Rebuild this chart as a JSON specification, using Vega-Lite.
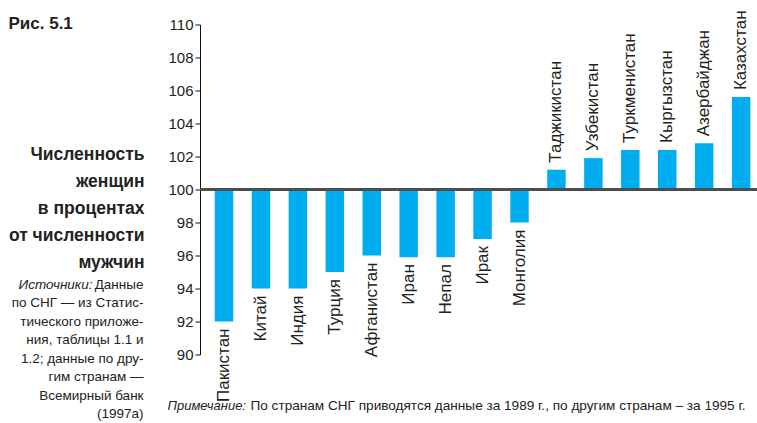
{
  "$schema": "https://vega.github.io/schema/vega-lite/v6.json",
  "width": 557,
  "height": 330,
  "autosize": {"type": "none"},
  "padding": {"left": 200, "top": 24.5, "right": 0, "bottom": 68.5},
  "background": "white",
  "config": {
    "view": {"stroke": null},
    "font": "Liberation Sans, Arial, sans-serif",
    "axis": {"grid": false}
  },
  "data": {
    "values": [
      {"country": "Пакистан", "value": 92.0},
      {"country": "Китай", "value": 94.0},
      {"country": "Индия", "value": 94.0},
      {"country": "Турция", "value": 95.0},
      {"country": "Афганистан", "value": 96.0},
      {"country": "Иран", "value": 95.9},
      {"country": "Непал", "value": 95.9},
      {"country": "Ирак", "value": 97.0},
      {"country": "Монголия", "value": 98.0},
      {"country": "Таджикистан", "value": 101.2},
      {"country": "Узбекистан", "value": 101.9},
      {"country": "Туркменистан", "value": 102.4},
      {"country": "Кыргызстан", "value": 102.4},
      {"country": "Азербайджан", "value": 102.8},
      {"country": "Казахстан", "value": 105.6}
    ]
  },
  "resolve": {"axis": {"x": "independent", "y": "independent"}},
  "layer": [
    {
      "mark": {"type": "bar", "color": "#00AEEF"},
      "encoding": {
        "x": {
          "field": "country", "type": "nominal",
          "scale": {
            "domain": ["Пакистан", "Китай", "Индия", "Турция", "Афганистан", "Иран", "Непал", "Ирак", "Монголия", "Таджикистан", "Узбекистан", "Туркменистан", "Кыргызстан", "Азербайджан", "Казахстан"],
            "paddingInner": 0.5, "paddingOuter": 0.29, "align": 0.69
          },
          "axis": {
            "orient": "bottom", "domain": false, "ticks": false, "labels": false,
            "title": "Примечание:", "titleFontStyle": "italic", "titleFontWeight": "normal",
            "titleFontSize": 13, "titleColor": "#222", "titleAlign": "left", "titleAngle": 0,
            "titleBaseline": "alphabetic", "titleX": -33, "titleY": 55
          }
        },
        "y": {
          "field": "value", "type": "quantitative",
          "scale": {"domain": [90, 110], "nice": false, "zero": false},
          "axis": {
            "orient": "left",
            "values": [90, 92, 94, 96, 98, 100, 102, 104, 106, 108, 110],
            "tickSize": 5, "tickColor": "#111", "domainColor": "#111", "tickWidth": 1, "domainWidth": 1,
            "labelFontSize": 15, "labelPadding": 2, "labelColor": "#222",
            "title": ["Численность", "женщин", "в процентах", "от численности", "мужчин"],
            "titleFontWeight": "bold", "titleFontSize": 17.5, "titleLineHeight": 27, "titleColor": "#222",
            "titleAlign": "right", "titleAngle": 0, "titleBaseline": "alphabetic",
            "titleX": -56, "titleY": 134.5
          }
        },
        "y2": {"datum": 100}
      }
    },
    {
      "mark": {"type": "rule", "color": "#4d4d4d", "strokeWidth": 1.5},
      "encoding": {"y": {"datum": 100, "axis": null}}
    },
    {
      "transform": [{"filter": "datum.value < 100"}],
      "mark": {"type": "text", "angle": 270, "align": "right", "baseline": "middle", "dx": -7, "fontSize": 17, "color": "#222"},
      "encoding": {
        "x": {
          "field": "country", "type": "nominal",
          "axis": {
            "orient": "bottom", "domain": false, "ticks": false, "labels": false,
            "title": "По странам СНГ приводятся данные за 1989 г., по другим странам – за 1995  г.",
            "titleFontWeight": "normal", "titleFontSize": 13.6, "titleColor": "#222",
            "titleAlign": "left", "titleAngle": 0, "titleBaseline": "alphabetic", "titleX": 50, "titleY": 55
          }
        },
        "y": {
          "field": "value", "type": "quantitative",
          "axis": {
            "orient": "left", "domain": false, "ticks": false, "labels": false,
            "title": ["Данные", "по СНГ — из Статис-", "тического приложе-", "ния, таблицы 1.1 и", "1.2; данные по дру-", "гим странам —", "Всемирный банк", "(1997а)"],
            "titleFontWeight": "normal", "titleFontSize": 13.5, "titleLineHeight": 18.5, "titleColor": "#222",
            "titleAlign": "right", "titleAngle": 0, "titleBaseline": "alphabetic", "titleX": -57, "titleY": 263.5
          }
        },
        "text": {"field": "country"}
      }
    },
    {
      "transform": [{"filter": "datum.value > 100"}],
      "mark": {"type": "text", "angle": 270, "align": "left", "baseline": "middle", "dx": 7, "fontSize": 17, "color": "#222"},
      "encoding": {
        "x": {
          "field": "country", "type": "nominal",
          "axis": {
            "orient": "bottom", "domain": false, "ticks": false, "labels": false,
            "title": "Источники:", "titleFontStyle": "italic", "titleFontWeight": "normal",
            "titleFontSize": 13.5, "titleColor": "#222",
            "titleAlign": "right", "titleAngle": 0, "titleBaseline": "alphabetic", "titleX": -108, "titleY": -66.5
          }
        },
        "y": {
          "field": "value", "type": "quantitative",
          "axis": {
            "orient": "left", "domain": false, "ticks": false, "labels": false,
            "title": "Рис. 5.1", "titleFontWeight": "bold", "titleFontSize": 17, "titleColor": "#222",
            "titleAlign": "left", "titleAngle": 0, "titleBaseline": "alphabetic", "titleX": -192, "titleY": 3.5
          }
        },
        "text": {"field": "country"}
      }
    }
  ]
}
